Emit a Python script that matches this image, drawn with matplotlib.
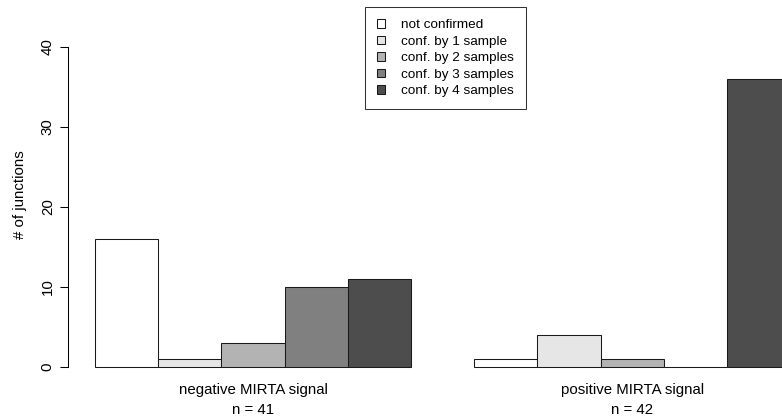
import numpy as np
import matplotlib.pyplot as plt
from matplotlib.patches import Patch

plt.rcParams['font.family'] = ['Liberation Sans', 'DejaVu Sans']

groups = ['negative MIRTA signal\nn = 41', 'positive MIRTA signal\nn = 42']
classes = ['not confirmed', 'conf. by 1 sample', 'conf. by 2 samples',
           'conf. by 3 samples', 'conf. by 4 samples']
negative = [16, 1, 3, 10, 11]
positive = [1, 4, 1, 0, 36]
greys = ['#FFFFFF', '#E6E6E6', '#B3B3B3', '#808080', '#4D4D4D']

fs = 10.8      # axis text
fs_leg = 9.7   # legend text (cex 0.9)

fig = plt.figure(figsize=(7.82, 4.16), dpi=100)
W, H = 782.0, 416.0
ax = fig.add_axes([68 / W, (H - 375) / H, (782 - 68) / W, (375 - 15) / H])

# beside-style layout: unit-width bars, one unit gap between groups
vals = np.array([negative, positive])
lefts = np.array([np.arange(1, 6), np.arange(7, 12)])
for g in range(2):
    ax.bar(lefts[g], vals[g], width=1.0, align='edge', color=greys,
           edgecolor='#1a1a1a', linewidth=0.75)

ax.set_xlim(0.573, 11.87)
ax.set_ylim(-1.0, 44.0)

for s in ['top', 'right', 'bottom']:
    ax.spines[s].set_visible(False)
ax.spines['left'].set_bounds(0, 40)
ax.spines['left'].set_linewidth(0.75)

ax.set_yticks([0, 10, 20, 30, 40])
ax.set_yticklabels(['0', '10', '20', '30', '40'], rotation=90, va='center',
                   fontsize=fs)
ax.tick_params(axis='y', length=5.5, width=0.75, pad=4)

ax.set_xticks([lefts[0].mean() + 0.5, lefts[1].mean() + 0.5])
ax.set_xticklabels(groups, fontsize=fs, linespacing=1.5)
ax.tick_params(axis='x', length=0, pad=6)

ax.set_ylabel('# of junctions', fontsize=fs, labelpad=10)

handles = [Patch(facecolor=c, edgecolor='#1a1a1a', linewidth=0.75) for c in greys]
leg = ax.legend(handles, classes, loc='upper left', fontsize=fs_leg,
                bbox_to_anchor=(365 / W, (H - 7) / H), bbox_transform=fig.transFigure,
                frameon=True, fancybox=False, handlelength=0.6, handleheight=0.6,
                handletextpad=1.15, labelspacing=0.33, borderpad=0.9,
                borderaxespad=0)
leg.get_frame().set_edgecolor('black')
leg.get_frame().set_linewidth(0.75)

fig.savefig('out.png', dpi=100)
